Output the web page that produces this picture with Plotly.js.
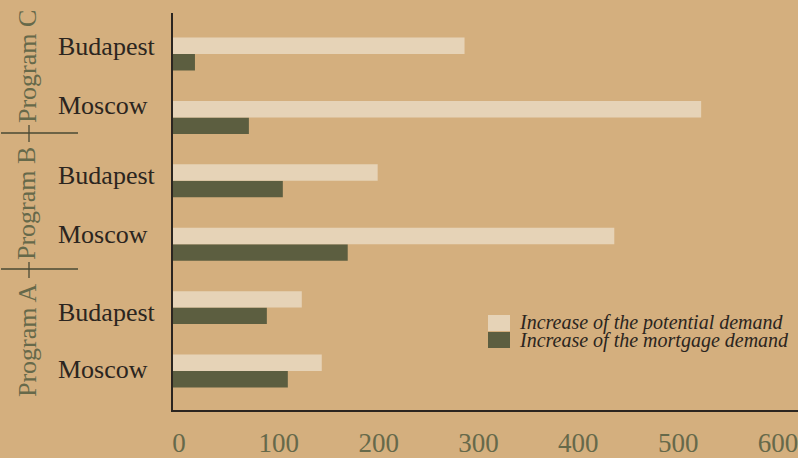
<!DOCTYPE html>
<html>
<head>
<meta charset="utf-8">
<script src="https://cdn.plot.ly/plotly-3.0.1.min.js"></script>
<style>
  html, body { margin: 0; padding: 0; background: #D4AF7E; }
  #chart { width: 798px; height: 458px; }
</style>
</head>
<body>
<div id="chart"></div>
<script>
// ---- data (bottom to top) ----
const programs = ['Program A', 'Program B', 'Program C'];
const cities = ['Moscow', 'Budapest'];
const seriesNames = ['Increase of the potential demand', 'Increase of the mortgage demand'];
// values listed per program: [Moscow, Budapest]
const potentialDemand = [149, 129, 442, 205, 529, 292];
const mortgageDemand  = [115,  94, 175, 110,  76,  22];
const xTicks = [0, 100, 200, 300, 400, 500, 600];

// ---- build categories ----
const catIds = [], catCity = [], catProgram = [];
programs.forEach(p => cities.forEach(c => {
  catIds.push(p + ' \u00b7 ' + c);
  catCity.push(c);
  catProgram.push(p);
}));

const BG = '#D4AF7E';
const LIGHT = '#E6D3B7';
const DARK = '#5C5E40';
const INK = '#2B2520';
const OLIVE = '#66694A';
const SERIF = '"Liberation Serif", "DejaVu Serif", serif';

const traces = [
  { type: 'bar', orientation: 'h', name: seriesNames[1], y: catIds, x: mortgageDemand,
    marker: { color: DARK, line: { width: 0 } }, showlegend: false, hoverinfo: 'x' },
  { type: 'bar', orientation: 'h', name: seriesNames[0], y: catIds, x: potentialDemand,
    marker: { color: LIGHT, line: { width: 0 } }, showlegend: false, hoverinfo: 'x' }
];

// pixel helpers for decorations (plot area: left 173, top 13, width 625, height 397)
const L = 173, T = 13, W = 625, H = 397;
const px = v => (v - L) / W;
const py = v => (T + H - v) / H;

const annotations = [];
// city labels, left-aligned (label placement in pixels, bottom to top)
const cityLabelY = [369.5, 312.5, 234.5, 175.5, 105, 46.5];
catIds.forEach((id, i) => {
  annotations.push({ xref: 'paper', yref: 'paper', x: px(56), y: py(cityLabelY[i]),
    xanchor: 'left', yanchor: 'middle', showarrow: false, text: catCity[i],
    font: { family: SERIF, size: 26, color: INK } });
});
// program labels, rotated
const progLabelY = [340, 204, 67];
programs.forEach((p, i) => {
  annotations.push({ xref: 'paper', yref: 'paper', x: px(27), y: py(progLabelY[i]),
    xanchor: 'center', yanchor: 'middle', textangle: -90, showarrow: false, text: p,
    font: { family: SERIF, size: 26, color: OLIVE } });
});
// legend text
annotations.push({ xref: 'paper', yref: 'paper', x: px(517), y: py(322), xanchor: 'left', yanchor: 'middle',
  showarrow: false, text: '<i>' + seriesNames[0] + '</i>', font: { family: SERIF, size: 20, color: INK } });
annotations.push({ xref: 'paper', yref: 'paper', x: px(517), y: py(340), xanchor: 'left', yanchor: 'middle',
  showarrow: false, text: '<i>' + seriesNames[1] + '</i>', font: { family: SERIF, size: 20, color: INK } });

const lineStyle = { color: '#4A4A35', width: 1.3 };
const shapes = [
  // group dividers
  { type: 'line', xref: 'paper', yref: 'paper', x0: px(1), x1: px(78), y0: py(133), y1: py(133), line: lineStyle },
  { type: 'line', xref: 'paper', yref: 'paper', x0: px(1), x1: px(78), y0: py(269), y1: py(269), line: lineStyle },
  { type: 'line', xref: 'paper', yref: 'paper', x0: px(29), x1: px(29), y0: py(125), y1: py(142), line: lineStyle },
  { type: 'line', xref: 'paper', yref: 'paper', x0: px(29), x1: px(29), y0: py(262), y1: py(278), line: lineStyle },
  // legend swatches
  { type: 'rect', xref: 'paper', yref: 'paper', x0: px(488), x1: px(510), y0: py(331), y1: py(315),
    fillcolor: LIGHT, line: { width: 0 } },
  { type: 'rect', xref: 'paper', yref: 'paper', x0: px(488), x1: px(510), y0: py(348), y1: py(332),
    fillcolor: DARK, line: { width: 0 } }
];

const layout = {
  width: 798, height: 458,
  margin: { l: L, r: 798 - L - W, t: T, b: 458 - T - H, pad: 0 },
  paper_bgcolor: BG, plot_bgcolor: BG,
  barmode: 'group', bargap: 0.48, bargroupgap: 0,
  showlegend: false,
  xaxis: {
    range: [0, 626], tickvals: xTicks, ticktext: xTicks.map(String),
    showgrid: false, zeroline: false, showline: true, linecolor: INK, linewidth: 2,
    ticks: '', ticklabelstandoff: 8, ticklabelshift: 6, ticklabeloverflow: 'allow',
    tickfont: { family: SERIF, size: 27, color: OLIVE }
  },
  yaxis: {
    type: 'category', categoryorder: 'array', categoryarray: catIds,
    range: [-0.615, 5.647],
    showgrid: false, zeroline: false, showline: true, linecolor: INK, linewidth: 2,
    ticks: '', showticklabels: false
  },
  annotations: annotations,
  shapes: shapes
};

Plotly.newPlot('chart', traces, layout, { displayModeBar: false, staticPlot: true });
</script>
</body>
</html>
